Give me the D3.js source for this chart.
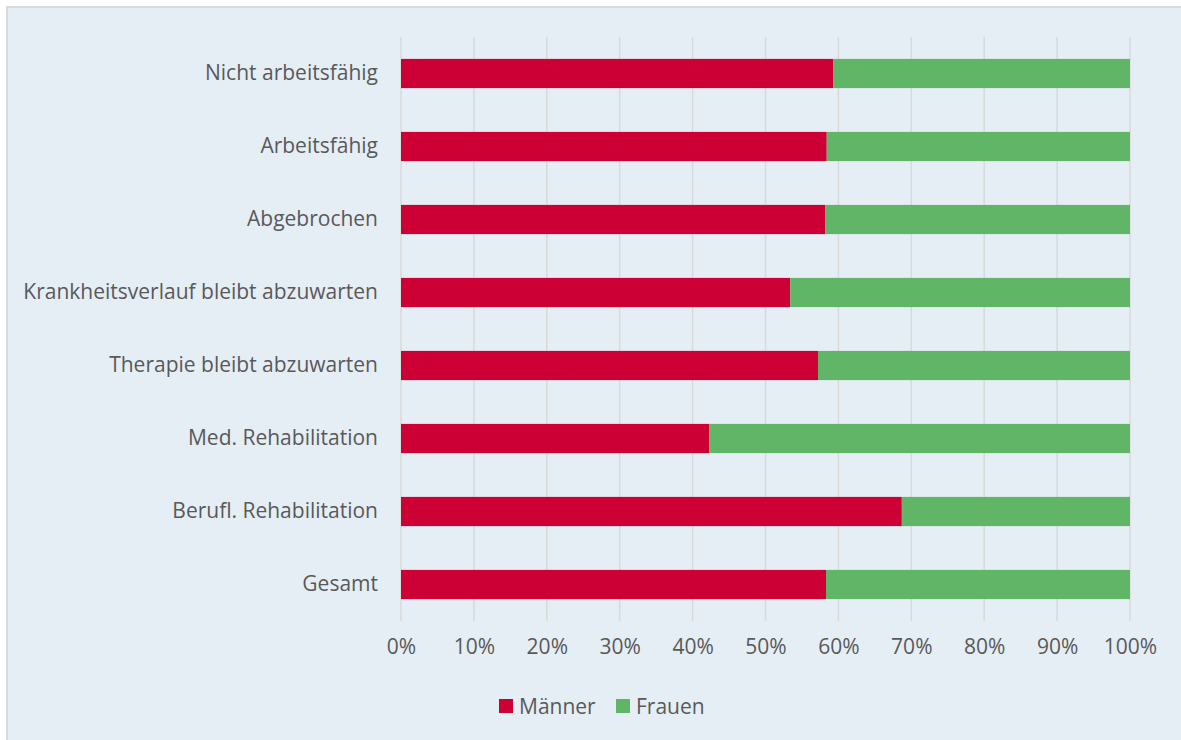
<!DOCTYPE html>
<html><head><meta charset="utf-8">
<script src="https://cdn.jsdelivr.net/npm/d3@7"></script>
<style>
html,body{margin:0;padding:0;background:#fff;}
svg{display:block;}
text{font-family:"Open Sans",sans-serif;fill:#595959;}
</style></head>
<body>
<svg id="chart" width="1181" height="740"></svg>
<script>
const categories = ["Nicht arbeitsfähig","Arbeitsfähig","Abgebrochen","Krankheitsverlauf bleibt abzuwarten","Therapie bleibt abzuwarten","Med. Rehabilitation","Berufl. Rehabilitation","Gesamt"];
const maenner = [59.3, 58.4, 58.2, 53.4, 57.2, 42.3, 68.7, 58.3];
const frauen = maenner.map(v => +(100 - v).toFixed(1));
const seriesNames = ["Männer","Frauen"];
const seriesColors = ["#cc0035","#61b566"];
const tickValues = [0,10,20,30,40,50,60,70,80,90,100];

const svg = d3.select("#chart");
svg.append("rect").attr("x",7).attr("y",7).attr("width",1181).attr("height",740)
  .attr("fill","#e5eef5").attr("stroke","#d9d9d9").attr("stroke-width",2);

const x = d3.scaleLinear().domain([0,100]).range([401,1130]);
const y = d3.scaleBand().domain(categories).range([37,621]).paddingInner(0.6).paddingOuter(0.3);

// gridlines
svg.append("g").selectAll("line").data(tickValues).join("line")
  .attr("x1",d=>x(d)).attr("x2",d=>x(d)).attr("y1",37).attr("y2",621)
  .attr("stroke","#d9d9d9").attr("stroke-width",1.5);

const data = categories.map((c,i)=>({cat:c, "Männer":maenner[i], "Frauen":frauen[i]}));
const stack = d3.stack().keys(seriesNames)(data);
svg.append("g").selectAll("g").data(stack).join("g")
  .attr("fill",(d,i)=>seriesColors[i])
  .selectAll("rect").data(d=>d).join("rect")
  .attr("x",d=>x(d[0])).attr("width",d=>x(d[1])-x(d[0]))
  .attr("y",d=>y(d.data.cat)).attr("height",y.bandwidth());

// category axis
const yAxis = svg.append("g").attr("transform","translate(401,0)")
  .call(d3.axisLeft(y).tickSize(0).tickPadding(23));
yAxis.select(".domain").remove();
yAxis.selectAll("text").style("font-size","21px").attr("fill","#595959");

// value axis
const xAxis = svg.append("g").attr("transform","translate(0,621)")
  .call(d3.axisBottom(x).tickValues(tickValues).tickFormat(d=>d+"%").tickSize(0).tickPadding(18));
xAxis.select(".domain").remove();
xAxis.selectAll("text").style("font-size","21px").attr("fill","#595959");

// legend
const legendX = [499,616];
const lg = svg.append("g").selectAll("g").data(seriesNames).join("g")
  .attr("transform",(d,i)=>`translate(${legendX[i]},699)`);
lg.append("rect").attr("width",14).attr("height",14).attr("fill",(d,i)=>seriesColors[i]);
lg.append("text").attr("x",20).attr("y",14.5).text(d=>d).style("font-size","21px");
</script>
</body></html>
